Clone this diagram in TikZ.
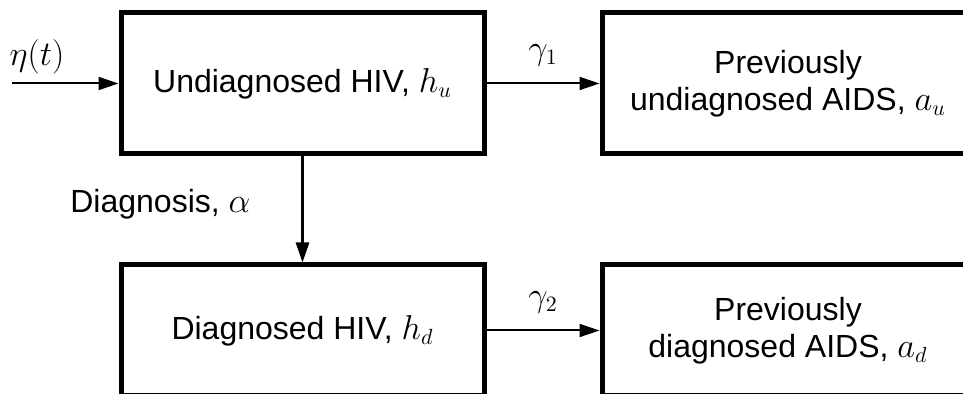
\documentclass[tikz,border=0pt]{standalone}
\usepackage{fontspec}
\setmainfont{Liberation Sans}
\usetikzlibrary{arrows.meta,positioning}
\tikzset{
  box/.style={draw,line width=2.5pt,align=center,inner sep=0pt,
              minimum width=181.5pt,minimum height=70.5pt},
  abox/.style={box,minimum width=186pt},
  lowbox/.style={minimum height=65.5pt},
  arr/.style={-{Triangle[length=10pt,width=6.5pt]},line width=1pt},
  varr/.style={arr,line width=1.4pt},
}
\begin{document}
\begin{tikzpicture}[x=0.5pt,y=-0.5pt,every node/.style={font=\fontsize{16}{18.5}\selectfont}]
\useasboundingbox (0,0) rectangle (963,394);
\clip (0,0) rectangle (963,394);
% compartments
\node[box] (hu) at (302.5,83.5) {Undiagnosed HIV, $h_u$};
\node[abox] (au) at (788,83.5) {Previously\\undiagnosed AIDS, $a_u$};
\node[box,lowbox] (hd) at (302.5,330.5) {Diagnosed HIV, $h_d$};
\node[abox,lowbox] (ad) at (788,330.5) {Previously\\diagnosed AIDS, $a_d$};
% flows
\coordinate (src) at (12,83.5);
\draw[arr] (src) -- (hu.west);
\node (eta) at (37,57) {$\eta(t)$};
\draw[arr] (hu.east) -- node[above=5pt] (g1) {$\gamma_1$} (au.west);
\draw[varr] (hu.south) -- node[pos=0.45,left=22pt] (alpha) {Diagnosis, $\alpha$} (hd.north);
\draw[arr] (hd.east) -- node[above=5pt] (g2) {$\gamma_2$} (ad.west);
\end{tikzpicture}
\end{document}
